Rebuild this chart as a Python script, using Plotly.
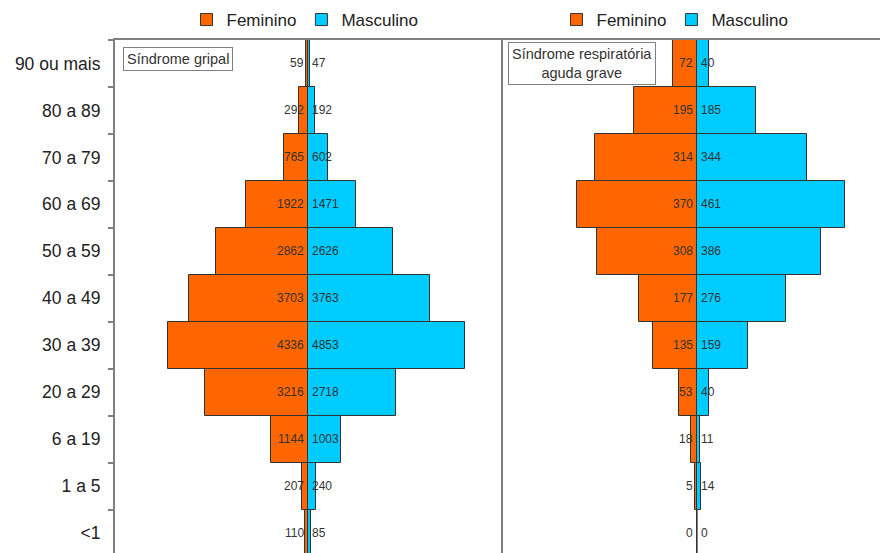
import plotly.graph_objects as go

# Age groups, bottom to top
faixas = ["<1", "1 a 5", "6 a 19", "20 a 29", "30 a 39", "40 a 49",
          "50 a 59", "60 a 69", "70 a 79", "80 a 89", "90 ou mais"]

# Síndrome gripal
sg_feminino = [110, 207, 1144, 3216, 4336, 3703, 2862, 1922, 765, 292, 59]
sg_masculino = [85, 240, 1003, 2718, 4853, 3763, 2626, 1471, 602, 192, 47]

# Síndrome respiratória aguda grave
srag_feminino = [0, 5, 18, 53, 135, 177, 308, 370, 314, 195, 72]
srag_masculino = [0, 14, 11, 40, 159, 276, 386, 461, 344, 185, 40]

COR_FEM = "#FF6600"
COR_MASC = "#00CCFF"
CONTORNO = "#333333"
CINZA = "#808080"
FONTE = "Liberation Sans, Arial, sans-serif"

W, H = 880, 553
TOP = 40


def px_x(p):
    return p / W


def px_y(p):
    return (H - p) / (H - TOP)


fig = go.Figure()
rotulos = []


def piramide(fem, masc, xa, ya, leg):
    fig.add_trace(go.Bar(
        y=faixas, x=[-v for v in fem], orientation="h", name="Feminino",
        marker=dict(color=COR_FEM, line=dict(color=CONTORNO, width=1)),
        customdata=fem, hovertemplate="%{y}: %{customdata}<extra>Feminino</extra>",
        xaxis=xa, yaxis=ya, legend=leg,
    ))
    fig.add_trace(go.Bar(
        y=faixas, x=masc, orientation="h", name="Masculino",
        marker=dict(color=COR_MASC, line=dict(color=CONTORNO, width=1)),
        hovertemplate="%{y}: %{x}<extra>Masculino</extra>",
        xaxis=xa, yaxis=ya, legend=leg,
    ))
    # value labels on both sides of the centre line
    for faixa, f, m in zip(faixas, fem, masc):
        rotulos.append(dict(
            x=0, y=faixa, xref=xa, yref=ya, text=str(f), showarrow=False,
            xanchor="right", yanchor="middle", xshift=-2,
            font=dict(size=12, color="#333333"),
        ))
        rotulos.append(dict(
            x=0, y=faixa, xref=xa, yref=ya, text=str(m), showarrow=False,
            xanchor="left", yanchor="middle", xshift=2,
            font=dict(size=12, color="#333333"),
        ))


piramide(sg_feminino, sg_masculino, "x", "y", "legend")
piramide(srag_feminino, srag_masculino, "x2", "y2", "legend2")

eixo_x = dict(
    side="top", showline=True, linecolor=CINZA, linewidth=2,
    showticklabels=False, ticks="", showgrid=False, fixedrange=True,
)

caixas = [
    dict(text="Síndrome gripal", xref="paper", yref="paper",
         x=px_x(178), y=px_y(59.5), xanchor="center", yanchor="middle",
         showarrow=False, font=dict(size=14.5, color="#333333"),
         bordercolor=CINZA, borderwidth=1, borderpad=3, bgcolor="white"),
    dict(text="Síndrome respiratória<br>aguda grave", xref="paper", yref="paper",
         x=px_x(582), y=px_y(63), xanchor="center", yanchor="middle",
         showarrow=False, align="center", font=dict(size=14.5, color="#333333"),
         bordercolor=CINZA, borderwidth=1, borderpad=3, bgcolor="white"),
]

fig.update_layout(
    width=W, height=H,
    margin=dict(l=0, r=0, t=TOP, b=0, autoexpand=False),
    paper_bgcolor="white", plot_bgcolor="white",
    font=dict(family=FONTE, color="#222222"),
    barmode="overlay", bargap=0,
    xaxis=dict(eixo_x, domain=[px_x(115), px_x(503)], range=[-5990, 6030],
               anchor="y", zeroline=True, zerolinecolor="black", zerolinewidth=2),
    xaxis2=dict(eixo_x, domain=[px_x(503), 1], range=[-600, 569],
                anchor="y2", zeroline=True, zerolinecolor=CINZA, zerolinewidth=2),
    yaxis=dict(
        type="category", categoryorder="array", categoryarray=faixas,
        range=[-0.4255, 10.5], domain=[0, 1], anchor="x",
        showline=True, linecolor=CINZA, linewidth=2, showgrid=False,
        ticks="outside", tickson="boundaries", ticklen=5, tickwidth=2,
        tickcolor=CINZA, tickfont=dict(size=17.5, color="#222222"),
        ticklabelstandoff=9, automargin=False,
    ),
    yaxis2=dict(
        type="category", categoryorder="array", categoryarray=faixas,
        range=[-0.4255, 10.5], domain=[0, 1], anchor="x2",
        showline=True, linecolor=CINZA, linewidth=2, showgrid=False,
        showticklabels=False, ticks="",
    ),
    legend=dict(
        orientation="h", x=px_x(305), xanchor="center", y=px_y(20), yanchor="middle",
        font=dict(size=17, color="#222222"), bgcolor="rgba(0,0,0,0)",
    ),
    legend2=dict(
        orientation="h", x=px_x(675), xanchor="center", y=px_y(20), yanchor="middle",
        font=dict(size=17, color="#222222"), bgcolor="rgba(0,0,0,0)",
    ),
    annotations=rotulos + caixas,
)

fig.write_html("out.html")
